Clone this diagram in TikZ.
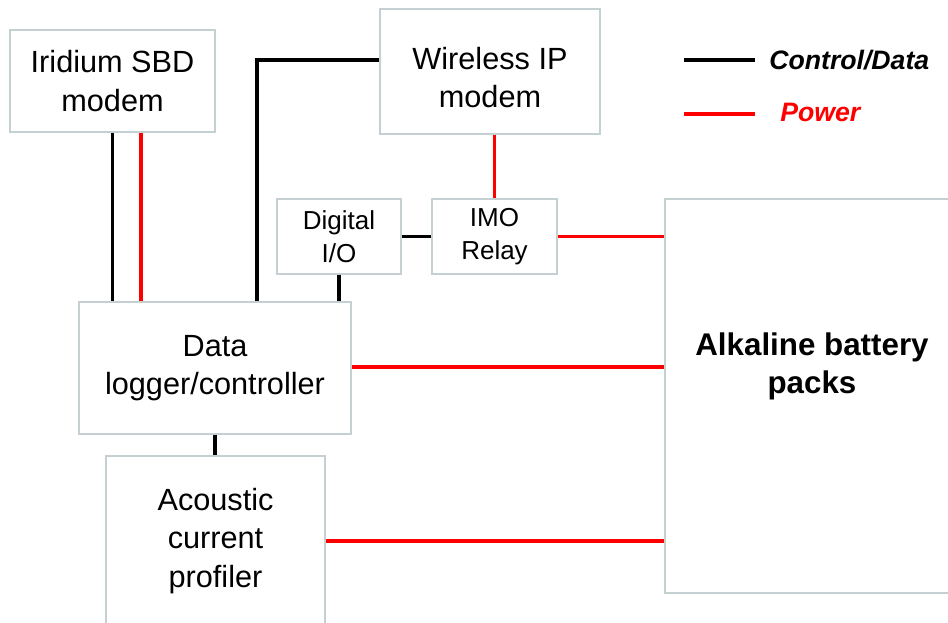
\documentclass[tikz,border=0pt]{standalone}
\usepackage{fontspec}
\setmainfont{Liberation Sans}
\usetikzlibrary{calc}
\definecolor{boxline}{RGB}{196,208,210}
\definecolor{pwrred}{RGB}{255,0,0}
\tikzset{
  box/.style={draw=boxline, line width=0.8pt, fill=white, align=center, inner sep=0pt,
              font=\fontsize{23}{29}\selectfont},
  boxtext/.style={align=center, inner sep=0pt, font=\fontsize{23}{29}\selectfont},
  smallbox/.style={box, font=\fontsize{19.5}{25}\selectfont},
  ctl/.style={draw=black, line width=2.6pt},
  pwr/.style={draw=pwrred, line width=2.6pt},
  legendtext/.style={anchor=west, inner sep=0pt, font=\fontsize{20}{24}\selectfont\bfseries\itshape}
}
\begin{document}
\begin{tikzpicture}[x=0.75pt, y=-0.75pt]
  \useasboundingbox (0,0) rectangle (948,622);

  % equipment blocks
  \node[box, minimum width=153.75pt, minimum height=76.5pt] (irid) at (112.5,81) {Iridium SBD\\modem};
  \node[box, minimum width=165pt, minimum height=93.75pt] (wifi) at (490,71.5) {};
  \node[boxtext] (wifitext) at ($(wifi.center)+(0,6)$) {Wireless IP\\modem};
  \node[smallbox, minimum width=93pt, minimum height=56.25pt] (dio) at (339,236.5) {Digital\\I/O};
  \node[smallbox, minimum width=93.75pt, minimum height=56.25pt] (imo) at (494.5,236.5) {IMO\\Relay};
  \node[box, minimum width=204pt, minimum height=99pt] (logger) at (215,368) {Data\\logger/controller};
  \node[box, minimum width=164.25pt, minimum height=127.5pt] (acp) at (215.5,541) {Acoustic\\current\\profiler};
  \node[box, minimum width=220.5pt, minimum height=295.5pt] (batt) at (812,396) {};
  \node[align=center, inner sep=0pt, font=\fontsize{23.5}{28.5}\selectfont\bfseries] (battlabel) at (812,366) {Alkaline battery\\packs};

  % control / data links
  \draw[ctl] (irid.south) -- (irid.south |- logger.north);
  \draw[ctl] ($(logger.north)+(42,0)$) |- ($(wifi.west)+(0,-11.5)$);
  \draw[ctl] (dio.south) -- (dio.south |- logger.north);
  \draw[ctl] (dio.east) -- (imo.west);
  \draw[ctl] (logger.south) -- (logger.south |- acp.north);

  % power links
  \draw[pwr] ($(irid.south)+(28.5,0)$) -- ($(irid.south |- logger.north)+(28.5,0)$);
  \draw[pwr, line width=2.2pt] (imo.north |- wifi.south) -- (imo.north);
  \draw[pwr] (imo.east) -- (imo.east -| batt.west);
  \draw[pwr] ($(logger.east)+(0,-1)$) -- ($(logger.east -| batt.west)+(0,-1)$);
  \draw[pwr] (acp.east) -- (acp.east -| batt.west);

  % legend
  \coordinate (lgc1) at (684,60);
  \coordinate (lgc2) at (755,60);
  \coordinate (lgp1) at (684,114);
  \coordinate (lgp2) at (755,114);
  \draw[ctl, line width=3pt] (lgc1) -- (lgc2);
  \draw[pwr, line width=3pt] (lgp1) -- (lgp2);
  \node[legendtext] (lgctext) at (769,60) {Control/Data};
  \node[legendtext, text=pwrred] (lgptext) at (780,112) {Power};
\end{tikzpicture}
\end{document}
